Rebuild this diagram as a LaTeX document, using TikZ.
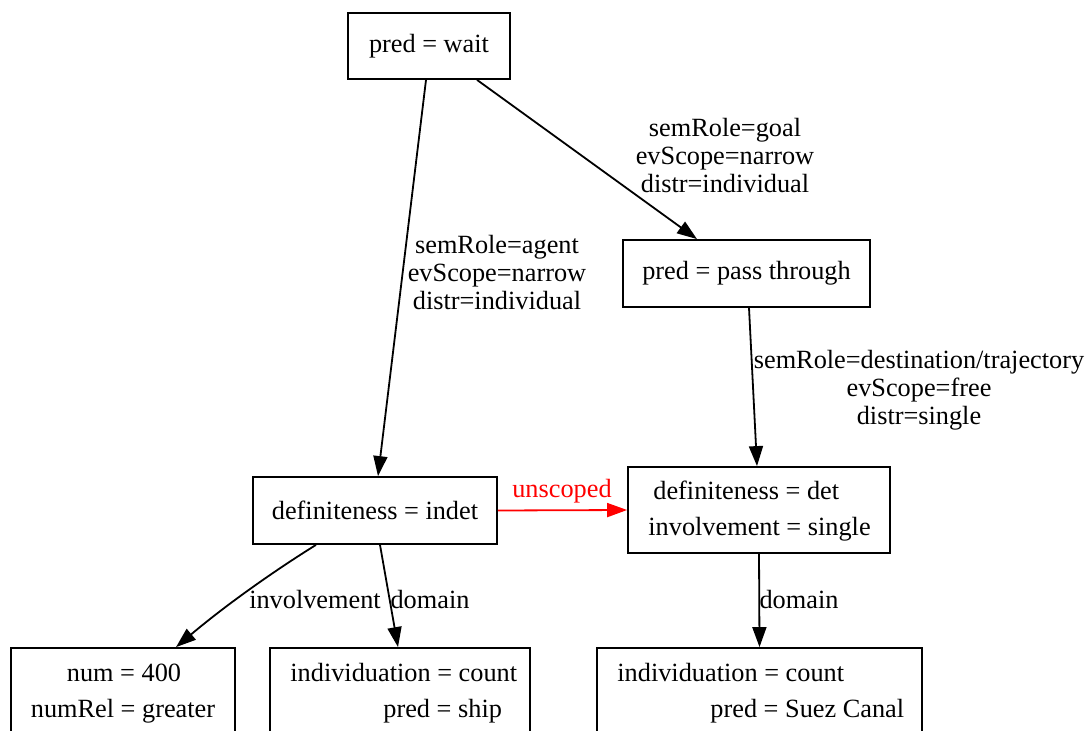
\documentclass[tikz,border=0pt]{standalone}
\usepackage{fontspec}
\setmainfont{Liberation Serif}
\usetikzlibrary{arrows.meta}
\definecolor{edgered}{RGB}{255,0,0}
\tikzset{
  x=0.5pt, y=-0.5pt,
  every node/.style={font=\fontsize{13.15}{14}\selectfont},
  box/.style={draw, line width=0.9pt, rectangle, inner sep=0pt, minimum height=33.5pt},
  tallbox/.style={box, minimum height=43pt},
  rowtext/.style={inner sep=0pt, anchor=base west},
  edgelabel/.style={inner sep=0pt, align=center},
  link/.style={line width=0.9pt, -{Triangle[length=10pt,width=7pt]}},
}
\begin{document}
\begin{tikzpicture}
\useasboundingbox (0,0) rectangle (1090,731);

% predicate boxes
\node[box, minimum width=81pt, minimum height=33pt] (wait) at (429,46) {pred = wait};
\node[box, minimum width=123.5pt] (pass) at (746.5,273.5) {pred = pass through};

% argument boxes
\node[box, minimum width=122pt] (indet) at (375,510.5) {definiteness = indet};
\node[tallbox, minimum width=131pt] (det) at (759,510) {};
\node[rowtext] (detA) at (653,499) {definiteness = det};
\node[rowtext] (detB) at (648,535) {involvement = single};

% leaf boxes
\node[tallbox, minimum width=112pt] (num) at (123,691) {};
\node[inner sep=0pt, anchor=base] (numA) at (124,681) {num = 400};
\node[inner sep=0pt, anchor=base] (numB) at (123,717) {numRel = greater};

\node[tallbox, minimum width=130pt] (ship) at (400,691) {};
\node[rowtext] (shipA) at (290,681) {individuation = count};
\node[rowtext] (shipB) at (383,717) {pred = ship};

\node[tallbox, minimum width=162.5pt] (suez) at (759.5,691) {};
\node[rowtext] (suezA) at (617,681) {individuation = count};
\node[rowtext] (suezB) at (710,717) {pred = Suez Canal};

% connectors
\draw[link] ([xshift=-1.5pt]wait.south) -- ([xshift=1.5pt]indet.north);
\draw[link] ([xshift=24pt]wait.south) -- ([xshift=-24.75pt]pass.north);
\draw[link] ([xshift=1.25pt]pass.south) -- ([xshift=-1pt]det.north);
\draw[link, edgered] (indet.east) -- (det.west);
\draw[link] ([xshift=-29.5pt]indet.south) .. controls (282,566) and (232,600) .. ([xshift=26.5pt]num.north);
\draw[link] ([xshift=2.5pt]indet.south) -- ([xshift=-1pt]ship.north);
\draw[link] (det.south) -- (suez.north);

% connector labels
\node[edgelabel] (lblAgent) at (497,273) {semRole=agent\\evScope=narrow\\distr=individual};
\node[edgelabel] (lblGoal) at (725,156) {semRole=goal\\evScope=narrow\\distr=individual};
\node[edgelabel] (lblDest) at (919,390) {semRole=destination/trajectory\\evScope=free\\distr=single};
\node[edgelabel, text=edgered] (lblUnsc) at (562,491) {unscoped};
\node[edgelabel] (lblInv) at (315,600) {involvement};
\node[edgelabel] (lblDomL) at (430,600) {domain};
\node[edgelabel] (lblDomR) at (799,600) {domain};
\end{tikzpicture}
\end{document}
